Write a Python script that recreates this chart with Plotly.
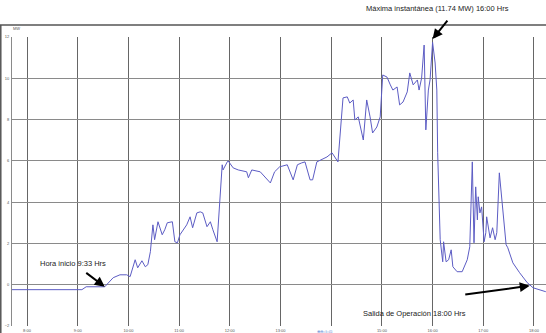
import pandas as pd
import plotly.graph_objects as go

# Time of day (HH:MM) and instantaneous power (MW)
times = ["07:42", "09:05", "09:10", "09:32", "09:42", "09:50", "09:58", "10:02", "10:08", "10:11",
         "10:16", "10:20", "10:23", "10:26", "10:29", "10:31", "10:35", "10:40", "10:43", "10:46",
         "10:52", "10:55", "10:58", "11:01", "11:09", "11:13", "11:16", "11:21", "11:25", "11:28",
         "11:33", "11:37", "11:40", "11:45", "11:51", "11:52", "11:57", "11:58", "12:04", "12:10",
         "12:20", "12:22", "12:26", "12:36", "12:48", "12:53", "12:59", "13:08", "13:15", "13:20",
         "13:25", "13:29", "13:35", "13:38", "13:43", "13:55", "14:01", "14:08", "14:14", "14:19",
         "14:22", "14:26", "14:28", "14:32", "14:38", "14:42", "14:46", "14:49", "14:54", "14:58",
         "15:01", "15:06", "15:10", "15:13", "15:18", "15:21", "15:25", "15:30", "15:33", "15:37",
         "15:42", "15:44", "15:47", "15:50", "15:52", "15:55", "15:57", "16:00", "16:03", "16:05",
         "16:06", "16:09", "16:12", "16:13", "16:16", "16:19", "16:22", "16:24", "16:29", "16:35",
         "16:41", "16:44", "16:47", "16:49", "16:51", "16:53", "16:54", "16:56", "16:58", "17:01",
         "17:03", "17:04", "17:08", "17:11", "17:14", "17:16", "17:19", "17:23", "17:27", "17:29",
         "17:35", "17:43", "17:52", "17:59", "18:14"]
mw = [-0.24, -0.24, -0.10, -0.10, 0.34, 0.48, 0.48, 0.39, 1.21, 0.82,
      1.16, 0.87, 0.97, 1.60, 2.90, 2.18, 3.05, 2.42, 2.66, 3.00,
      3.05, 2.08, 2.03, 2.42, 2.90, 3.29, 2.76, 3.48, 3.53, 3.48,
      2.81, 3.05, 2.66, 2.08, 5.81, 5.56, 5.95, 6.00, 5.66, 5.56,
      5.47, 5.18, 5.56, 5.47, 4.93, 5.47, 5.71, 5.81, 5.08, 5.81,
      5.90, 5.95, 5.08, 5.08, 5.95, 6.19, 6.39, 5.95, 9.05, 9.10,
      8.80, 8.95, 7.98, 8.13, 7.01, 8.95, 8.13, 7.35, 7.64, 8.13,
      10.16, 10.06, 9.68, 9.43, 9.58, 8.71, 8.85, 9.34, 10.26, 9.68,
      9.92, 9.43, 10.01, 11.61, 7.50, 9.43, 9.92, 11.74, 10.74, 9.43,
      6.39, 2.18, 1.11, 2.08, 1.11, 1.21, 1.69, 0.87, 0.63, 0.63,
      1.21, 1.84, 5.95, 2.03, 4.74, 3.14, 4.26, 3.48, 3.77, 2.08,
      2.52, 3.29, 2.27, 2.76, 2.18, 2.52, 5.42, 3.77, 1.94, 1.79,
      1.06, 0.58, 0.10, -0.15, -0.34]

hour_ticks = ["08:00", "09:00", "10:00", "11:00", "12:00", "13:00", "14:00", "15:00", "16:00", "17:00", "18:00"]
hour_labels = ["8:00", "9:00", "10:00", "11:00", "12:00", "13:00", "", "15:00", "16:00", "17:00", "18:00"]
y_ticks = [-2, 0, 2, 4, 6, 8, 10, 12]

day = "2024-01-01 "
x = pd.to_datetime([day + t for t in times])
xt = pd.to_datetime([day + t for t in hour_ticks])

fig = go.Figure()
fig.add_trace(go.Scatter(x=x, y=mw, mode="lines",
                         line=dict(color="#5c5cc4", width=1), hoverinfo="skip"))

fig.update_layout(
    width=546, height=333,
    margin=dict(l=12, r=0, t=37, b=7),
    paper_bgcolor="white", plot_bgcolor="white",
    showlegend=False,
    font=dict(family="Liberation Sans", color="#333"),
    xaxis=dict(type="date", range=[day + "07:42:14", day + "18:14:13"],
               tickvals=xt, ticktext=hour_labels,
               showgrid=True, gridcolor="#666666", gridwidth=1.2,
               zeroline=False, showline=False, ticks="",
               tickfont=dict(size=4, color="#555"), ticklabelstandoff=1),
    yaxis=dict(range=[-2, 12], tickvals=y_ticks,
               showgrid=True, gridcolor="#8a8a8a", gridwidth=1.2,
               zeroline=False, showline=True, linecolor="#8a8a8a", linewidth=1,
               ticks="", tickfont=dict(size=4, color="#555"), ticklabelstandoff=1),
)

# window frame lines
fig.add_shape(type="line", xref="paper", yref="paper", x0=-0.0225, x1=1.0, y0=1.0415, y1=1.0415,
              line=dict(color="#555", width=1.5))
fig.add_shape(type="line", xref="paper", yref="paper", x0=-0.021, x1=-0.021, y0=-0.03, y1=1.0415,
              line=dict(color="#555", width=1.5))

ann_font = dict(family="Liberation Sans", size=7.5, color="#222")
# text labels
fig.add_annotation(text="Máxima instantánea (11.74 MW) 16:00 Hrs", xref="paper", yref="paper",
                   x=0.796, y=1.1003, xanchor="center", yanchor="middle",
                   showarrow=False, font=ann_font)
fig.add_annotation(text="Hora inicio 9:33 Hrs", x=pd.Timestamp(day + "08:54"), y=1.02,
                   xanchor="center", yanchor="middle", showarrow=False, font=ann_font)
fig.add_annotation(text="Salida de Operación 18:00 Hrs", x=pd.Timestamp(day + "15:39"), y=-1.40,
                   xanchor="center", yanchor="middle", showarrow=False, font=ann_font)
fig.add_annotation(text="MW", xref="paper", yref="paper", x=0.0075, y=1.031,
                   xanchor="center", yanchor="middle", showarrow=False,
                   font=dict(size=4, color="#555"))
fig.add_annotation(text="⊕⊖◁▷⊡", xref="paper", yref="paper", x=0.585, y=-0.005,
                   xanchor="center", yanchor="top", showarrow=False,
                   font=dict(size=4, color="#4a7bd0"))

# arrows
arrow = dict(showarrow=True, arrowhead=2, arrowsize=1, arrowwidth=2, arrowcolor="black", text="")
fig.add_annotation(x=pd.Timestamp(day + "16:00"), y=11.9, ax=16, ay=-20, **arrow)
fig.add_annotation(x=pd.Timestamp(day + "09:32"), y=-0.1, ax=-20, ay=-15, **arrow)
fig.add_annotation(x=pd.Timestamp(day + "17:55"), y=-0.05, ax=-66, ay=9, **arrow)

fig.write_html("out.html")
